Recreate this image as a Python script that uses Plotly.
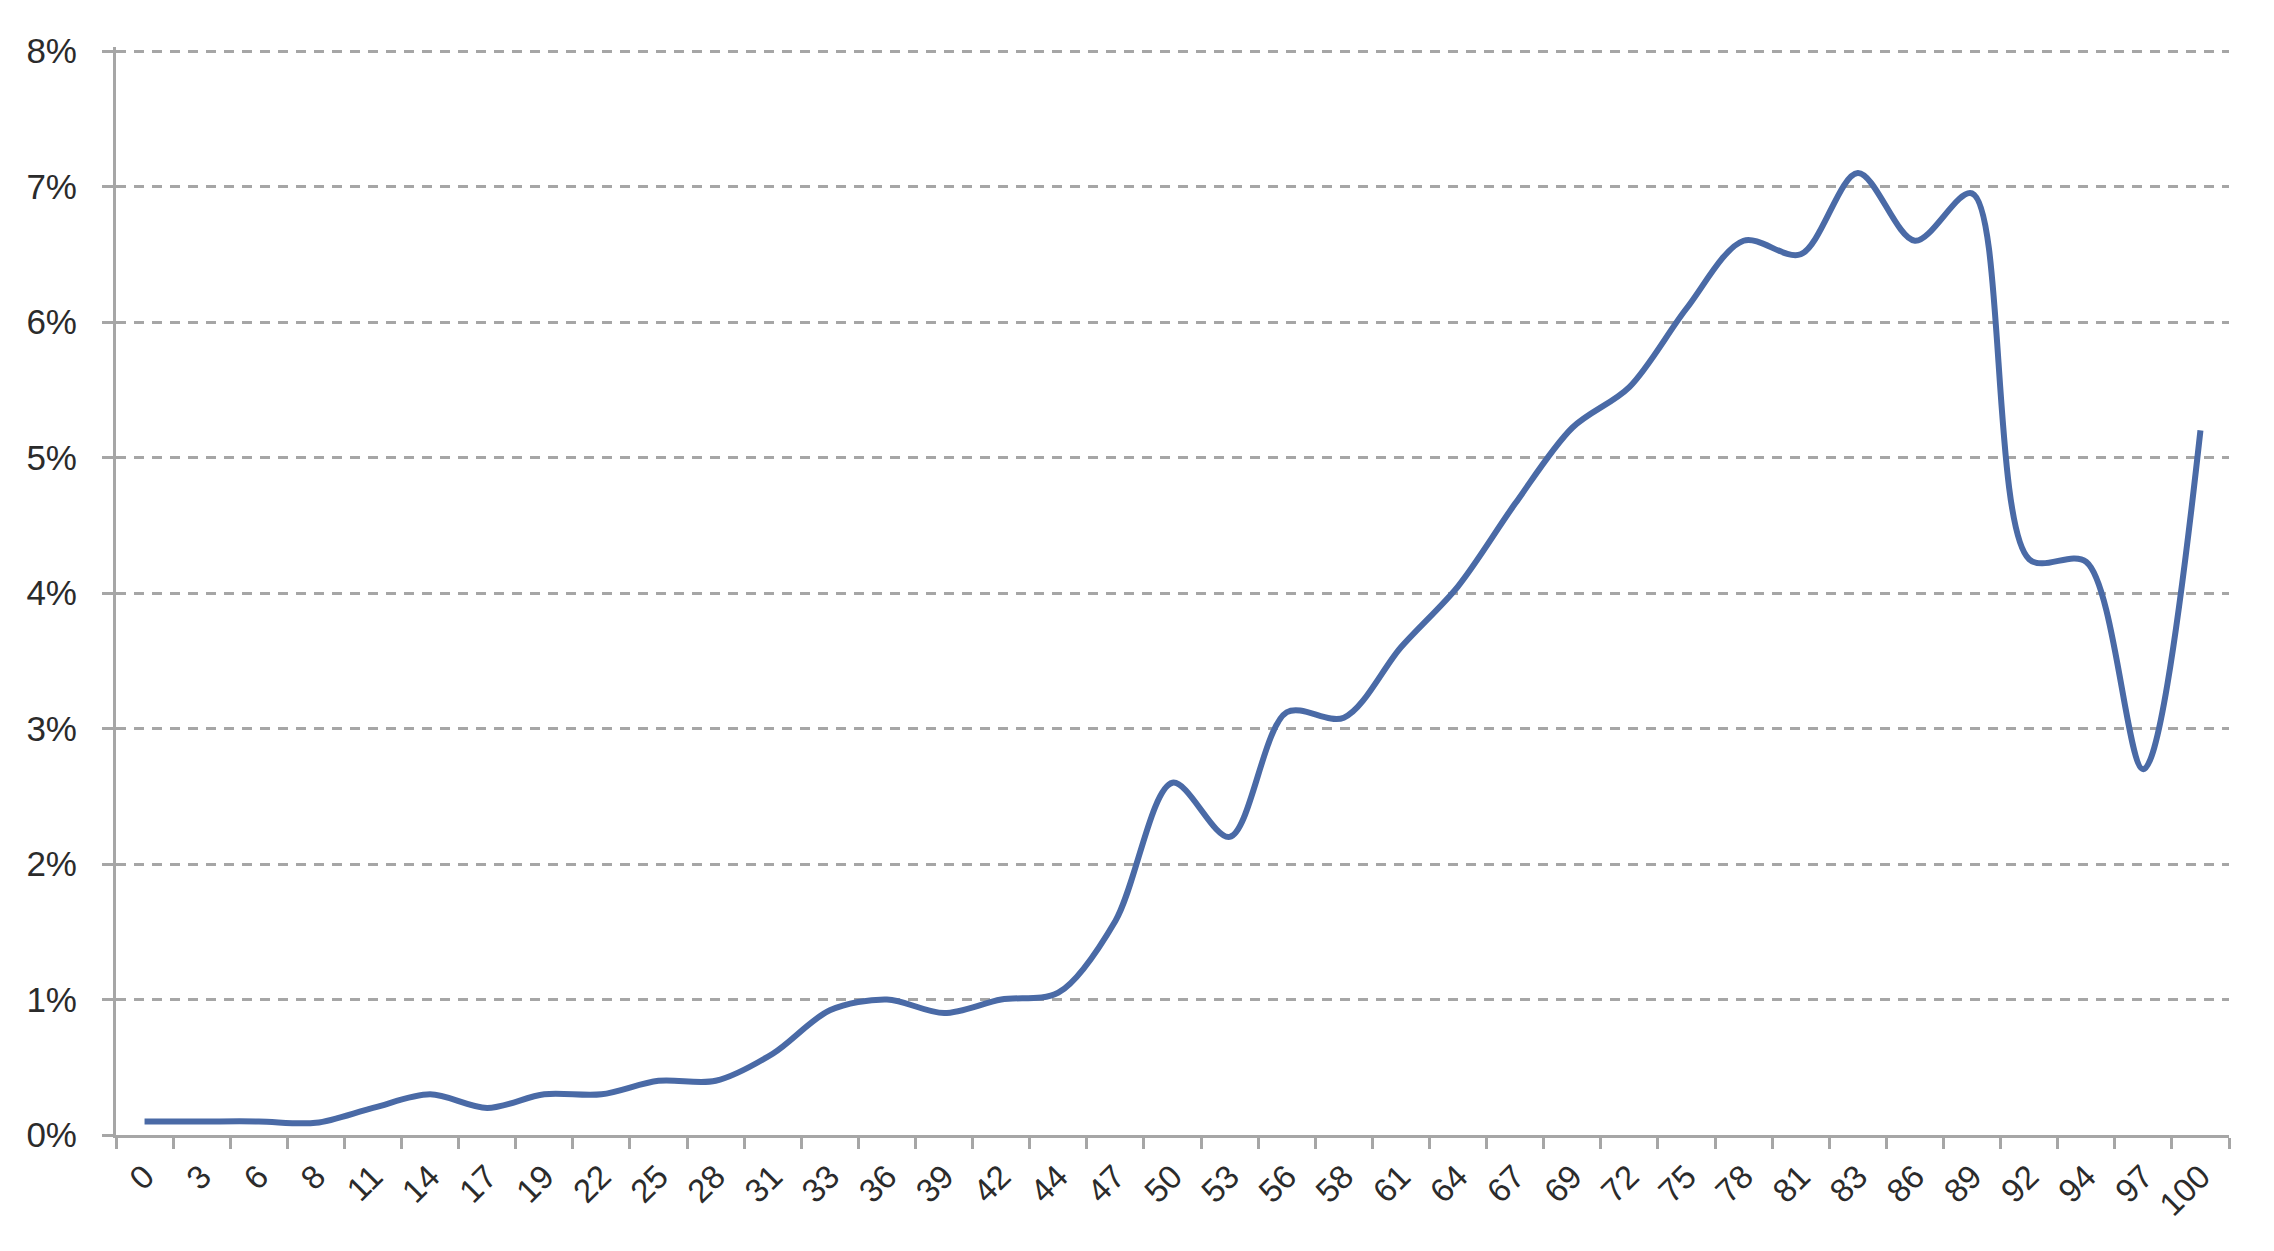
import plotly.graph_objects as go

categories = ["0", "3", "6", "8", "11", "14", "17", "19", "22", "25", "28", "31", "33",
              "36", "39", "42", "44", "47", "50", "53", "56", "58", "61", "64", "67",
              "69", "72", "75", "78", "81", "83", "86", "89", "92", "94", "97", "100"]
values = [0.10, 0.10, 0.10, 0.09, 0.20, 0.30, 0.20, 0.30, 0.30, 0.40, 0.40, 0.60, 0.92,
          1.00, 0.90, 1.00, 1.05, 1.58, 2.60, 2.20, 3.12, 3.08, 3.60, 4.05, 4.66,
          5.22, 5.52, 6.10, 6.60, 6.50, 7.10, 6.60, 6.95, 4.25, 4.23, 2.70, 5.20]
y_ticks = [0, 1, 2, 3, 4, 5, 6, 7, 8]

fig = go.Figure()
fig.add_trace(go.Scatter(
    x=categories, y=values, mode="lines",
    line=dict(color="#4a6aa6", width=6, shape="spline", smoothing=0.9),
    showlegend=False, hoverinfo="skip",
))

fig.update_layout(
    width=2274, height=1251,
    margin=dict(l=108, r=53, t=39, b=124, autoexpand=False),
    paper_bgcolor="white", plot_bgcolor="white",
    font=dict(family="Liberation Sans, Arial, sans-serif", color="#2b2b2b", size=32),
)
fig.update_xaxes(
    type="category", range=[-0.5, 36.5],
    showline=True, linecolor="#a6a6a6", linewidth=3,
    ticks="outside", tickson="boundaries", ticklen=11, tickwidth=3, tickcolor="#a6a6a6",
    tickangle=-45, showgrid=False, tickfont=dict(size=33, color="#2b2b2b"),
    ticklabelstandoff=6,
)
fig.update_yaxes(
    range=[0, 8.03], tickvals=y_ticks, ticktext=[f"{v}%" for v in y_ticks],
    showline=True, linecolor="#a6a6a6", linewidth=3,
    ticks="outside", ticklen=11, tickwidth=3, tickcolor="#a6a6a6",
    showgrid=True, gridcolor="#a6a6a6", gridwidth=3, griddash="10px,8px",
    zeroline=False, tickfont=dict(size=35, color="#2b2b2b"),
    ticklabelstandoff=18,
)

fig.write_html("out.html")
